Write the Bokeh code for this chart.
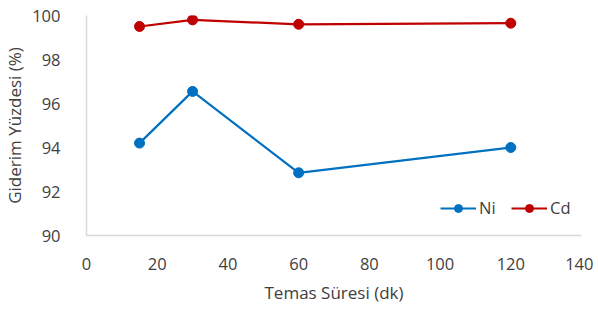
from bokeh.plotting import figure
from bokeh.models import Range1d, FixedTicker
from bokeh.embed import file_html
from bokeh.resources import INLINE

time_min = [15, 30, 60, 120]
ni_removal = [94.2, 96.55, 92.85, 94.0]
cd_removal = [99.5, 99.8, 99.6, 99.65]
x_ticks = [0, 20, 40, 60, 80, 100, 120, 140]
y_ticks = [90, 92, 94, 96, 98, 100]

FONT = "Open Sans"
p = figure(frame_width=495, frame_height=220, output_backend="svg", toolbar_location=None,
           x_range=Range1d(0, 140), y_range=Range1d(90, 100),
           min_border_left=86, min_border_right=12, min_border_top=15, min_border_bottom=66)
p.outline_line_color = None
p.xgrid.grid_line_color = None
p.ygrid.grid_line_color = None

NI = "#0070C0"
CD = "#C00000"
p.line(time_min, ni_removal, line_color=NI, line_width=2.2, legend_label="Ni")
p.scatter(time_min, ni_removal, size=10, fill_color=NI, line_color=NI, legend_label="Ni")
p.line(time_min, cd_removal, line_color=CD, line_width=2.2, legend_label="Cd")
p.scatter(time_min, cd_removal, size=10, fill_color=CD, line_color=CD, legend_label="Cd")

for ax in (p.xaxis[0], p.yaxis[0]):
    ax.major_tick_line_color = None
    ax.minor_tick_line_color = None
    ax.axis_line_color = "#d9d9d9"
    ax.axis_line_width = 1.5
    ax.major_label_text_font = FONT
    ax.major_label_text_font_size = "16.5px"
    ax.major_label_text_color = "#404040"
    ax.axis_label_text_font = FONT
    ax.axis_label_text_font_size = "17px"
    ax.axis_label_text_font_style = "normal"
    ax.axis_label_text_color = "#404040"

p.xaxis.ticker = FixedTicker(ticks=x_ticks)
p.yaxis.ticker = FixedTicker(ticks=y_ticks)
p.xaxis.axis_label = "Temas Süresi (dk)"
p.yaxis.axis_label = "Giderim Yüzdesi (%)"
p.xaxis.major_label_standoff = 16
p.xaxis.axis_label_standoff = 8
p.yaxis.major_label_standoff = 20
p.yaxis.axis_label_standoff = 3

leg = p.legend[0]
leg.orientation = "horizontal"
leg.location = (354, 16)
leg.padding = 0
leg.margin = 0
leg.spacing = 12
leg.border_line_color = None
leg.background_fill_alpha = 0
leg.glyph_width = 36
leg.glyph_height = 20
leg.label_standoff = 3
leg.label_text_font = FONT
leg.label_text_font_size = "16.5px"
leg.label_text_color = "#404040"

open("out.html", "w").write(file_html(p, INLINE))
